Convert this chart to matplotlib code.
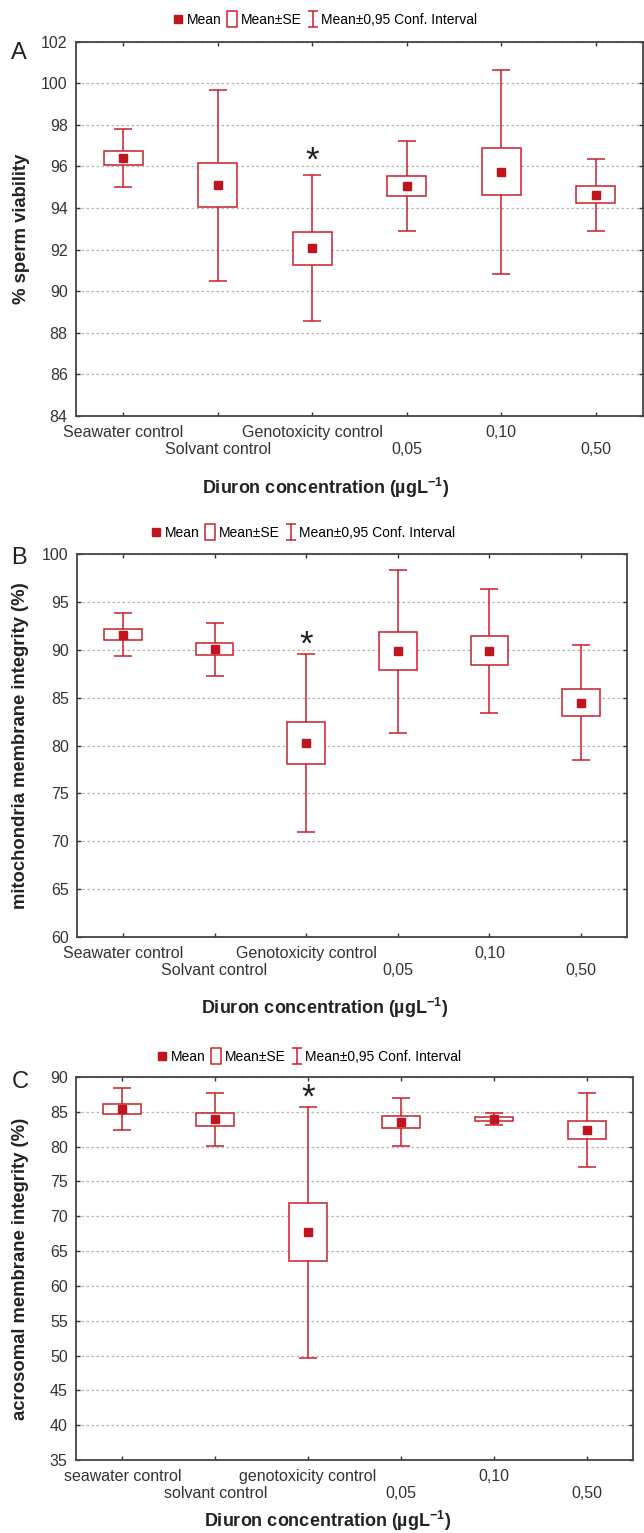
import numpy as np
import matplotlib
matplotlib.use("Agg")
import matplotlib.pyplot as plt
from matplotlib.lines import Line2D
from matplotlib.path import Path

plt.rcParams['font.family'] = ['Liberation Sans', 'DejaVu Sans']
plt.rcParams['mathtext.fontset'] = 'custom'
plt.rcParams['mathtext.rm'] = 'Liberation Sans'
plt.rcParams['mathtext.bf'] = 'Liberation Sans:bold'

# treatment groups
groups_upper = ['Seawater control', 'Solvant control', 'Genotoxicity control', '0,05', '0,10', '0,50']
groups_lower = ['seawater control', 'solvant control', 'genotoxicity control', '0,05', '0,10', '0,50']

# A: sperm viability (%)
viab_mean = [96.40, 95.10, 92.07, 95.06, 95.75, 94.65]
viab_se = [0.32, 1.07, 0.80, 0.50, 1.13, 0.40]
viab_ci = [1.41, 4.60, 3.50, 2.15, 4.90, 1.73]

# B: mitochondria membrane integrity (%)
mito_mean = [91.58, 90.05, 80.28, 89.84, 89.90, 84.47]
mito_se = [0.56, 0.62, 2.17, 2.00, 1.51, 1.38]
mito_ci = [2.24, 2.76, 9.30, 8.53, 6.49, 6.00]

# C: acrosomal membrane integrity (%)
acro_mean = [85.40, 83.90, 67.70, 83.55, 83.98, 82.40]
acro_se = [0.74, 0.90, 4.15, 0.81, 0.29, 1.24]
acro_ci = [3.05, 3.86, 18.00, 3.48, 0.86, 5.35]

RED = '#c8202a'
DARK = '#c0141e'
xlab = r'Diuron concentration (µgL$^{\mathbf{-1}}$)'


def box_panel(ax, mean, se, ci, labels, ylim, ystep, ylabel, star_y):
    x = np.arange(1, len(mean) + 1)
    mean = np.array(mean)
    se = np.array(se)
    ci = np.array(ci)
    ax.errorbar(x, mean, yerr=ci, fmt='none', ecolor=RED, elinewidth=1.1,
                capsize=6.5, capthick=1.1, zorder=2)
    ax.bar(x, 2 * se, bottom=mean - se, width=0.41, color='white',
           edgecolor=RED, linewidth=1.1, zorder=3)
    ax.plot(x, mean, 's', color=DARK, markersize=6, zorder=4)
    ax.text(3, star_y, '*', ha='center', va='center', fontsize=25, color='#222222')

    ax.set_xlim(0.5, 6.5)
    ax.set_ylim(*ylim)
    ax.set_yticks(np.arange(ylim[0], ylim[1] + 0.1, ystep))
    ax.yaxis.grid(True, linestyle=(0, (2, 2)), color='#b5b5b5', linewidth=0.9)
    ax.set_axisbelow(True)

    # two staggered rows of group labels
    ax.set_xticks([1, 3, 5], labels=[labels[0], labels[2], labels[4]])
    ax.set_xticks([2, 4, 6], labels=[labels[1], labels[3], labels[5]], minor=True)
    ax.tick_params(axis='both', which='both', direction='in', length=3, width=1,
                   top=True, right=True, labelsize=11.5, colors='#333333')
    ax.tick_params(axis='x', which='major', pad=6.5)
    ax.tick_params(axis='x', which='minor', pad=19)
    ax.tick_params(axis='y', pad=6)
    for s in ax.spines.values():
        s.set_color('#444444')
        s.set_linewidth(1.3)

    ax.set_ylabel(ylabel, fontsize=13.3, fontweight='bold', color='#222222')
    ax.set_xlabel(xlab, fontsize=13, fontweight='bold', color='#222222')


def add_legend(fig, xc, yc):
    se_box = Path([(-0.3, -0.5), (0.3, -0.5), (0.3, 0.5), (-0.3, 0.5), (-0.3, -0.5)],
                  [Path.MOVETO, Path.LINETO, Path.LINETO, Path.LINETO, Path.CLOSEPOLY])
    ibeam = Path([(-0.3, 0.5), (0.3, 0.5), (0, 0.5), (0, -0.5), (-0.3, -0.5), (0.3, -0.5)],
                 [Path.MOVETO, Path.LINETO, Path.MOVETO, Path.LINETO, Path.MOVETO, Path.LINETO])
    handles = [
        Line2D([], [], linestyle='none', marker='s', color=DARK, markersize=6),
        Line2D([], [], linestyle='none', marker=se_box, markerfacecolor='white',
               markeredgecolor=RED, markersize=11, markeredgewidth=1.1),
        Line2D([], [], linestyle='none', marker=ibeam, markerfacecolor='none',
               markeredgecolor=RED, markersize=11, markeredgewidth=1.1),
    ]
    fig.legend(handles, ['Mean', 'Mean±SE', 'Mean±0,95 Conf. Interval'],
               loc='center', bbox_to_anchor=(xc / 644, 1 - yc / 1533), ncol=3,
               frameon=False, fontsize=10, handlelength=0.8, handletextpad=0.2,
               columnspacing=0.4, borderpad=0)


fig = plt.figure(figsize=(6.44, 15.33), dpi=100)

axA = fig.add_axes([76 / 644, 1 - 416 / 1533, 567 / 644, 374.3 / 1533])
box_panel(axA, viab_mean, viab_se, viab_ci, groups_upper, (84, 102), 2,
          '% sperm viability', 96.25)
axA.yaxis.set_label_coords(-0.082, 0.5)
axA.xaxis.set_label_coords(0.441, -0.16)

axB = fig.add_axes([77 / 644, 1 - 937 / 1533, 550 / 644, 383 / 1533])
box_panel(axB, mito_mean, mito_se, mito_ci, groups_upper, (60, 100), 5,
          'mitochondria membrane integrity (%)', 90.5)
axB.yaxis.set_label_coords(-0.087, 0.5)
axB.xaxis.set_label_coords(0.451, -0.155)

axC = fig.add_axes([76 / 644, 1 - 1460 / 1533, 557 / 644, 383 / 1533])
box_panel(axC, acro_mean, acro_se, acro_ci, groups_lower, (35, 90), 5,
          'acrosomal membrane integrity (%)', 86.9)
axC.yaxis.set_label_coords(-0.085, 0.5)
axC.xaxis.set_label_coords(0.452, -0.128)

add_legend(fig, 325, 20)
add_legend(fig, 303, 533)
add_legend(fig, 309, 1057)

fig.text(19 / 644, 1 - 53 / 1533, 'A', fontsize=17, ha='center', va='center', color='#222222')
fig.text(19 / 644, 1 - 558 / 1533, 'B', fontsize=17, ha='center', va='center', color='#222222')
fig.text(20 / 644, 1 - 1082 / 1533, 'C', fontsize=17, ha='center', va='center', color='#222222')

fig.savefig('out.png', dpi=100)
